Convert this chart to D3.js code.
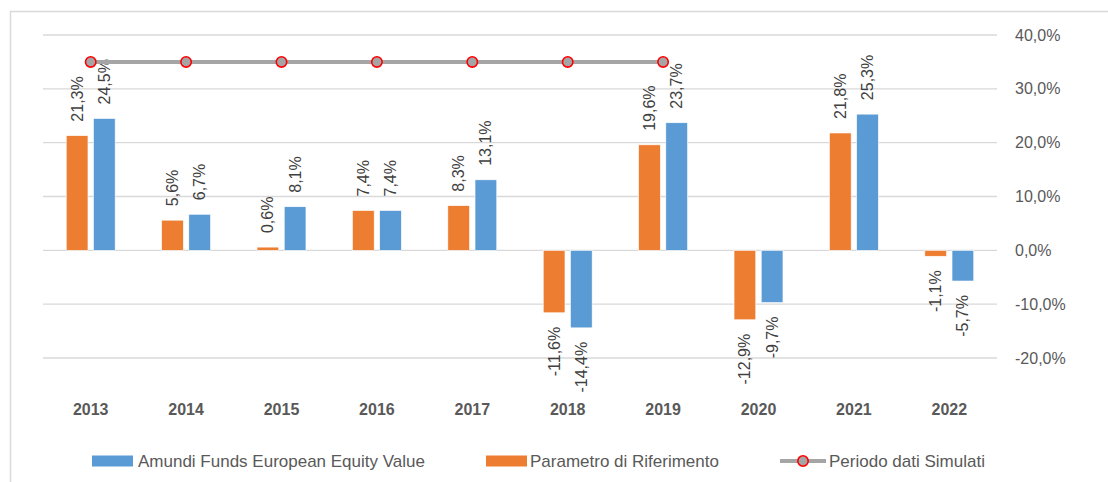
<!DOCTYPE html>
<html>
<head>
<meta charset="utf-8">
<script src="https://cdn.jsdelivr.net/npm/d3@7"></script>
<style>
  body { margin: 0; background: #fff; }
  svg { display: block; font-family: "Liberation Sans", Arial, sans-serif; }
</style>
</head>
<body>
<svg width="1108" height="482"></svg>
<script>
// data
var years = ["2013", "2014", "2015", "2016", "2017", "2018", "2019", "2020", "2021", "2022"];
var parametro = [21.3, 5.6, 0.6, 7.4, 8.3, -11.6, 19.6, -12.9, 21.8, -1.1];
var amundi = [24.5, 6.7, 8.1, 7.4, 13.1, -14.4, 23.7, -9.7, 25.3, -5.7];
var simulati = [35, 35, 35, 35, 35, 35, 35, null, null, null];
var yTicks = [-20, -10, 0, 10, 20, 30, 40];

var seriesNames = ["Amundi Funds European Equity Value", "Parametro di Riferimento", "Periodo dati Simulati"];
var colors = { amundi: "#5B9BD5", parametro: "#ED7D31", line: "#A5A5A5", marker: "#FF0000" };

const margin = { top: 35, right: 111, bottom: 124, left: 43 };
var width = 1108, height = 482;

var locale = d3.formatLocale({ decimal: ",", thousands: ".", grouping: [3], currency: ["€", ""], minus: "-" });
var fmt = locale.format(".1f");

var svg = d3.select("svg");

// chart frame (runs off the right and bottom edge)
svg.append("path")
  .attr("d", "M10.5,482 V11.5 H1108")
  .attr("fill", "none")
  .attr("stroke", "#D9D9D9")
  .attr("stroke-width", 1.5);

var x = d3.scaleBand()
  .domain(years)
  .range([margin.left, width - margin.right])
  .padding(0);

var y = d3.scaleLinear()
  .domain([-20, 40])
  .range([height - margin.bottom, margin.top]);

var groupW = x.bandwidth() * 0.513;
var x1 = d3.scaleBand()
  .domain(["parametro", "amundi"])
  .range([-groupW / 2, groupW / 2])
  .paddingInner(0.2);

// gridlines
svg.append("g")
  .attr("class", "grid")
  .selectAll("line")
  .data(yTicks)
  .join("line")
  .attr("x1", x.range()[0])
  .attr("x2", x.range()[1])
  .attr("y1", d => y(d))
  .attr("y2", d => y(d))
  .attr("stroke", "#D9D9D9")
  .attr("stroke-width", 1.3);

// y axis on the right
var yAxis = d3.axisRight(y)
  .tickValues(yTicks)
  .tickSize(0)
  .tickPadding(18)
  .tickFormat(d => fmt(d) + "%");

svg.append("g")
  .attr("transform", `translate(${x.range()[1]},0)`)
  .call(yAxis)
  .call(g => g.select(".domain").remove())
  .selectAll("text")
  .attr("fill", "#595959")
  .style("font-size", "16px")
  .style("font-family", "Liberation Sans, Arial, sans-serif");

// x labels
svg.append("g")
  .selectAll("text")
  .data(years)
  .join("text")
  .attr("x", d => x(d) + x.bandwidth() / 2)
  .attr("y", 415)
  .attr("text-anchor", "middle")
  .attr("fill", "#595959")
  .style("font-size", "16px")
  .style("font-weight", "bold")
  .text(d => d);

// bars
var barData = [];
years.forEach((yr, i) => {
  barData.push({ year: yr, key: "parametro", value: parametro[i] });
  barData.push({ year: yr, key: "amundi", value: amundi[i] });
});

var cx = d => x(d.year) + x.bandwidth() / 2 + x1(d.key);

svg.append("g")
  .selectAll("rect")
  .data(barData)
  .join("rect")
  .attr("x", cx)
  .attr("width", x1.bandwidth())
  .attr("y", d => y(Math.max(0, d.value)))
  .attr("height", d => Math.abs(y(d.value) - y(0)))
  .attr("fill", d => colors[d.key])
  .attr("stroke", "#fff")
  .attr("stroke-width", 0.6);

// value labels, rotated
svg.append("g")
  .selectAll("text")
  .data(barData)
  .join("text")
  .attr("transform", d => {
    var tx = cx(d) + x1.bandwidth() / 2;
    var ty = d.value >= 0 ? y(d.value) - 14 : y(d.value) + 14;
    return `translate(${tx},${ty}) rotate(-90)`;
  })
  .attr("text-anchor", d => d.value >= 0 ? "start" : "end")
  .attr("dominant-baseline", "central")
  .attr("fill", "#404040")
  .style("font-size", "16px")
  .text(d => fmt(d.value) + "%");

// simulated period line
var lineData = years.map((yr, i) => ({ year: yr, value: simulati[i] })).filter(d => d.value != null);
var line = d3.line()
  .x(d => x(d.year) + x.bandwidth() / 2)
  .y(d => y(d.value));

svg.append("path")
  .datum(lineData)
  .attr("d", line)
  .attr("fill", "none")
  .attr("stroke", colors.line)
  .attr("stroke-width", 4);

svg.append("g")
  .selectAll("circle")
  .data(lineData)
  .join("circle")
  .attr("cx", d => x(d.year) + x.bandwidth() / 2)
  .attr("cy", d => y(d.value))
  .attr("r", 5.2)
  .attr("fill", colors.line)
  .attr("stroke", colors.marker)
  .attr("stroke-width", 1.6);

// legend
var legendY = 461;
var legend = svg.append("g").style("font-size", "17px");

legend.append("rect")
  .attr("x", 92).attr("y", legendY - 5.5)
  .attr("width", 41).attr("height", 11)
  .attr("fill", colors.amundi);
legend.append("text")
  .attr("x", 138).attr("y", legendY)
  .attr("dominant-baseline", "central")
  .attr("fill", "#595959")
  .text(seriesNames[0]);

legend.append("rect")
  .attr("x", 486).attr("y", legendY - 5.5)
  .attr("width", 41).attr("height", 11)
  .attr("fill", colors.parametro);
legend.append("text")
  .attr("x", 530).attr("y", legendY)
  .attr("dominant-baseline", "central")
  .attr("fill", "#595959")
  .text(seriesNames[1]);

legend.append("line")
  .attr("x1", 780).attr("x2", 826)
  .attr("y1", legendY).attr("y2", legendY)
  .attr("stroke", colors.line)
  .attr("stroke-width", 4);
legend.append("circle")
  .attr("cx", 803).attr("cy", legendY)
  .attr("r", 5.2)
  .attr("fill", colors.line)
  .attr("stroke", colors.marker)
  .attr("stroke-width", 1.6);
legend.append("text")
  .attr("x", 829).attr("y", legendY)
  .attr("dominant-baseline", "central")
  .attr("fill", "#595959")
  .text(seriesNames[2]);
</script>
</body>
</html>
